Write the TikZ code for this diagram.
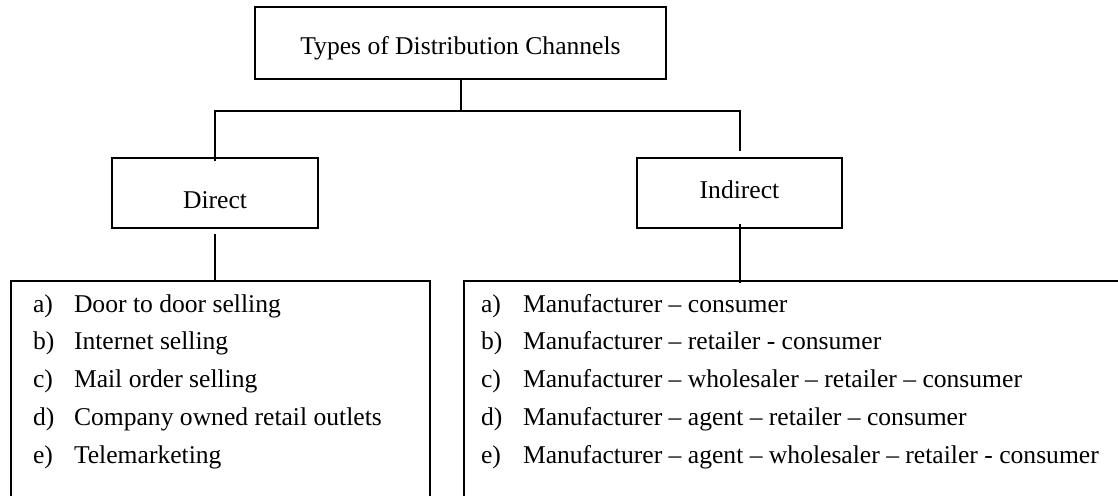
\documentclass[tikz,border=0pt]{standalone}
\usepackage{fontspec}
\setmainfont{Liberation Serif}
\begin{document}
\begin{tikzpicture}[x=0.5pt,y=-0.5pt, line width=1pt,
  every node/.style={font=\fontsize{12.8}{15}\selectfont},
  box/.style={draw, rectangle, inner sep=0pt},
  listbox/.style={draw, rectangle, inner sep=0pt, anchor=north west},
  entry/.style={anchor=base west, inner sep=0pt}]
\useasboundingbox (0,0) rectangle (1118,495);
\clip (0,0) rectangle (1118,495);

% title and the two channel boxes
\node[box, minimum width=205.5pt, minimum height=36pt, text height=11pt, text depth=0pt]
  (top) at (460.5,43) {Types of Distribution Channels};
\node[box, minimum width=103pt, minimum height=35pt, text height=15pt, text depth=0pt]
  (direct) at (215,193) {Direct};
\node[box, minimum width=102.5pt, minimum height=35pt, text height=7pt, text depth=2pt]
  (indirect) at (739.5,193) {Indirect};

% open-bottomed list boxes
\node[listbox, minimum width=209.5pt, minimum height=130pt] (dlist) at (10,280) {};
\node[listbox, minimum width=340pt, minimum height=130pt] (ilist) at (463,280) {};

% connectors
\coordinate (split) at (460.5,111);
\draw (top.south) -- (split);
\draw ([yshift=-2pt]direct.north) -- (direct.north |- split)
      -- (indirect.north |- split) -- ([yshift=3pt]indirect.north);
\draw ([yshift=-2.5pt]direct.south) -- (direct.south |- dlist.north);
\draw ([yshift=2.5pt]indirect.south) -- ([yshift=-1.5pt]indirect.south |- ilist.north);

% direct channels
\foreach \k/\t [count=\i from 0] in {a/Door to door selling, b/Internet selling,
    c/Mail order selling, d/Company owned retail outlets, e/Telemarketing} {
  \node[entry] (dl\k) at (32,{312+37.8*\i}) {\k)};
  \node[entry] (dt\k) at (73,{312+37.8*\i}) {\t};
}

% indirect channels
\foreach \k/\t [count=\i from 0] in {a/Manufacturer – consumer,
    b/Manufacturer – retailer - consumer,
    c/Manufacturer – wholesaler – retailer – consumer,
    d/Manufacturer – agent – retailer – consumer,
    e/Manufacturer – agent – wholesaler – retailer - consumer} {
  \node[entry] (il\k) at (480,{312+37.8*\i}) {\k)};
  \node[entry] (it\k) at (522,{312+37.8*\i}) {\t};
}
\end{tikzpicture}
\end{document}
